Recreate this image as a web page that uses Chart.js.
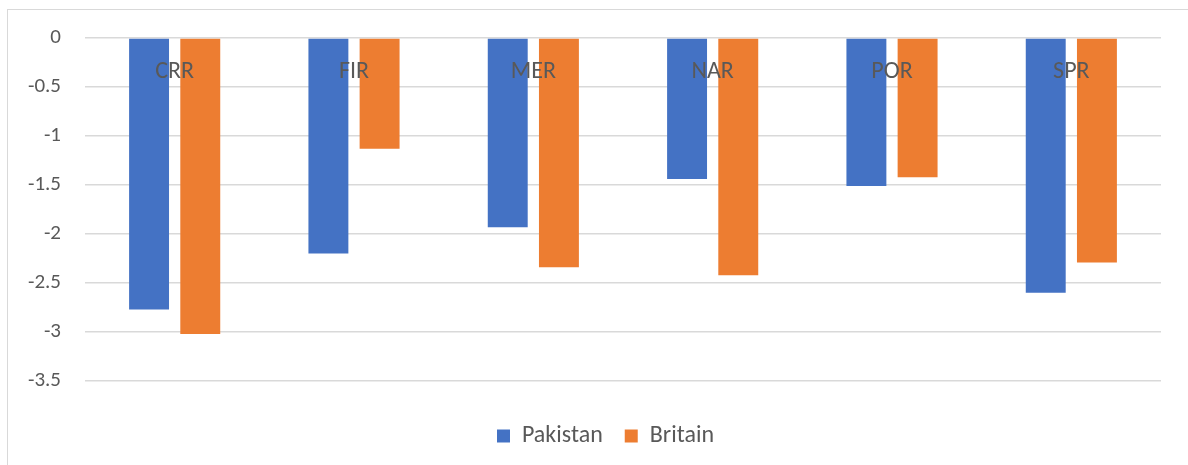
<!DOCTYPE html>
<html>
<head>
<meta charset="utf-8">
<script src="https://cdn.jsdelivr.net/npm/chart.js@4/dist/chart.umd.min.js"></script>
<style>
  html, body { margin: 0; padding: 0; background: #fff; overflow: hidden; }
  #frame { position: absolute; left: 7px; top: 9px; width: 1300px; height: 600px; border: 1px solid #d9d9d9; }
  #wrap { position: absolute; left: 0; top: 0; width: 1188px; height: 465px; }
</style>
</head>
<body>
<div id="frame"></div>
<div id="wrap"><canvas id="c"></canvas></div>
<script>
// data
const categories = ['CRR', 'FIR', 'MER', 'NAR', 'POR', 'SPR'];
const pakistan = [-2.77, -2.2, -1.93, -1.44, -1.51, -2.6];
const britain = [-3.02, -1.13, -2.34, -2.42, -1.42, -2.29];
const yTicks = [0, -0.5, -1, -1.5, -2, -2.5, -3, -3.5];

const FONT = 'Carlito, Calibri, "Liberation Sans", sans-serif';
const TEXT = '#595959';
const SIZE = 24;

// category names sit just under the zero line, over the bars
const catLabels = {
    id: 'catLabels',
    afterDatasetsDraw(chart) {
        const ctx = chart.ctx;
        const x = chart.scales.x, y = chart.scales.y;
        ctx.save();
        ctx.font = SIZE + 'px ' + FONT;
        ctx.fillStyle = TEXT;
        ctx.textAlign = 'center';
        ctx.textBaseline = 'middle';
        categories.forEach((c, i) => {
            ctx.fillText(c, x.getPixelForValue(i), y.getPixelForValue(0) + 34);
        });
        ctx.restore();
    }
};

// push the legend a bit lower and right, like the original
const legendShift = {
    id: 'legendShift',
    afterLayout(chart) {
        chart.legend.top += 21;
        chart.legend.bottom += 21;
        chart.legend.left += 50;
    }
};

new Chart(document.getElementById('c'), {
    type: 'bar',
    data: {
        labels: categories,
        datasets: [
            { label: 'Pakistan', data: pakistan, backgroundColor: '#4472C4' },
            { label: 'Britain', data: britain, backgroundColor: '#ED7D31' }
        ]
    },
    options: {
        responsive: true,
        maintainAspectRatio: false,
        animation: false,
        layout: { padding: { left: 0, right: 27, top: 38, bottom: 28 } },
        datasets: { bar: { categoryPercentage: 0.571, barPercentage: 0.78 } },
        scales: {
            x: { display: false },
            y: {
                min: -3.5,
                max: 0,
                afterFit(s) { s.width = 85; },
                afterBuildTicks(s) { s.ticks = yTicks.map(v => ({ value: v })); },
                grid: { color: '#d9d9d9', lineWidth: 1.5, drawTicks: false },
                border: { display: false },
                ticks: {
                    padding: 24,
                    color: TEXT,
                    font: { size: 21, family: FONT },
                    callback: v => String(v)
                }
            }
        },
        plugins: {
            legend: {
                position: 'bottom',
                labels: {
                    boxWidth: 13,
                    boxHeight: 13,
                    padding: 22,
                    color: TEXT,
                    font: { size: SIZE, family: FONT }
                }
            },
            tooltip: { enabled: false }
        }
    },
    plugins: [catLabels, legendShift]
});
</script>
</body>
</html>
